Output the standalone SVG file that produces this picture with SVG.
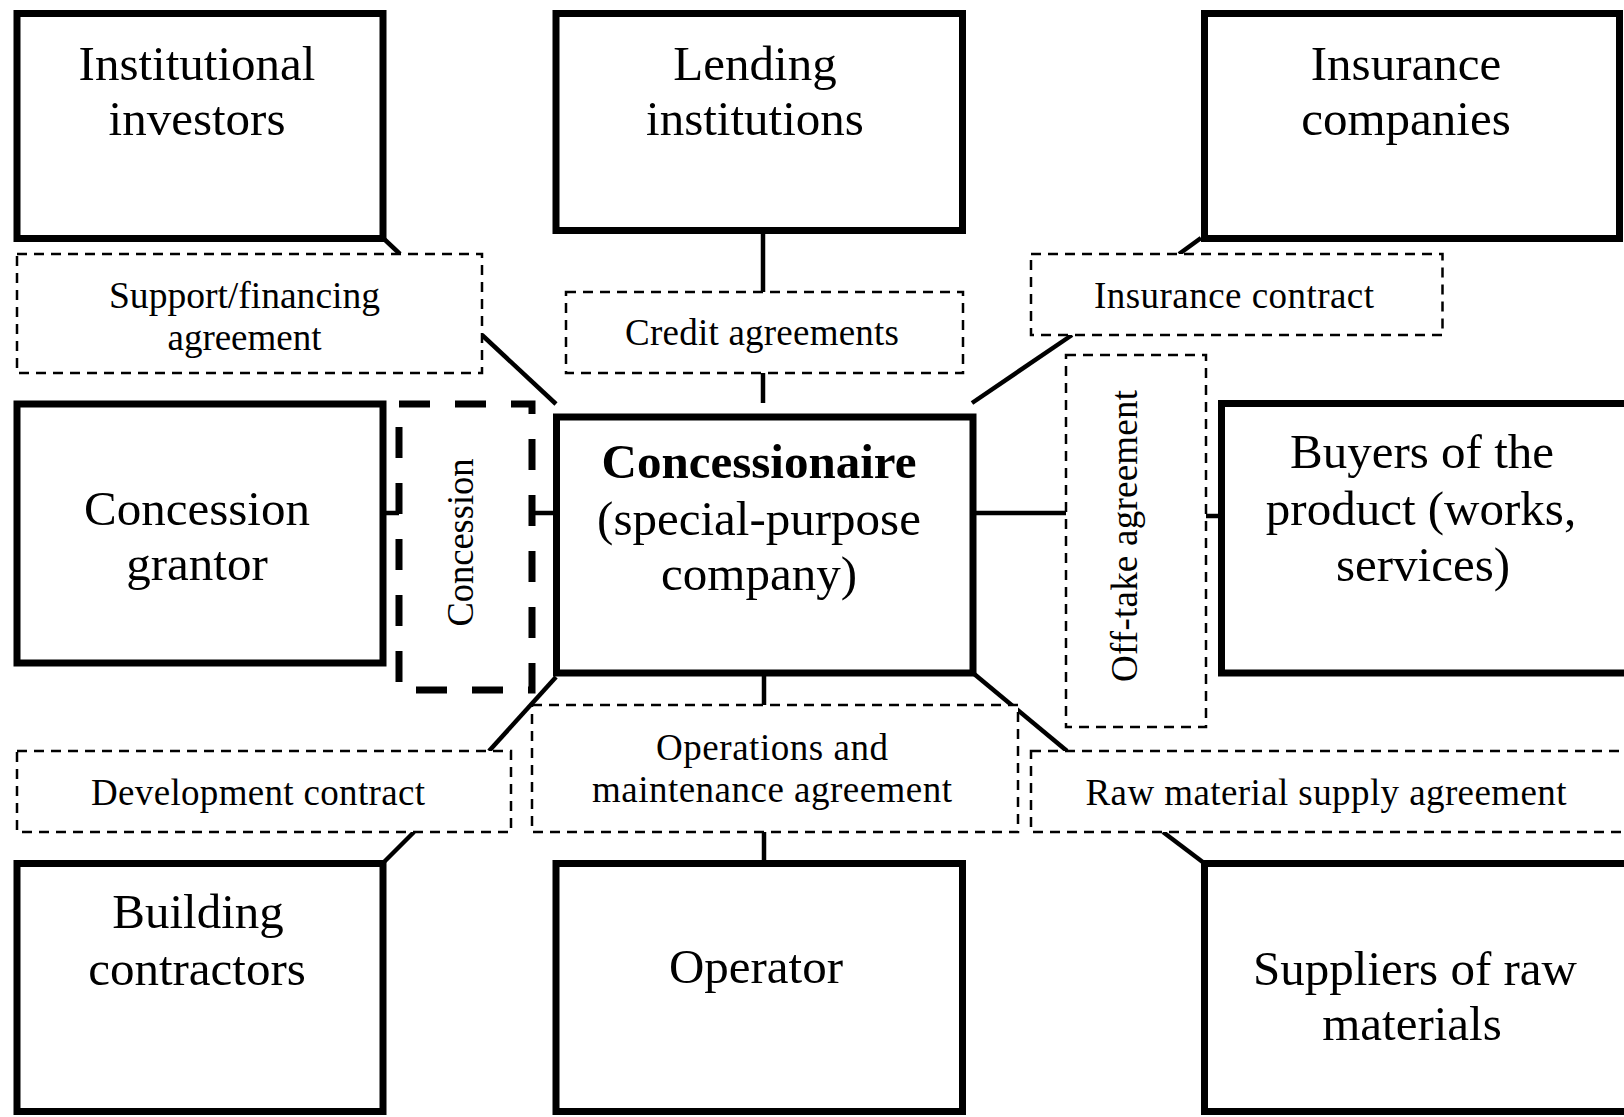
<svg xmlns="http://www.w3.org/2000/svg" width="1624" height="1117" viewBox="0 0 1624 1117">
  <style>
    .node { fill: #fff; stroke: #000; stroke-width: 7; }
    .label-box { fill: #fff; stroke: #000; stroke-width: 2.5; stroke-dasharray: 10 7; }
    .grant-box { fill: #fff; stroke: #000; stroke-width: 7; stroke-dasharray: 31 25; }
    .link { stroke: #000; stroke-width: 4.5; fill: none; }
    .big { font-family: "Liberation Serif", "Times New Roman", serif; font-size: 49px; fill: #000; text-anchor: middle; }
    .bold { font-weight: bold; }
    .small { font-family: "Liberation Serif", "Times New Roman", serif; font-size: 37px; fill: #000; text-anchor: middle; }
  </style>
  <rect width="1624" height="1117" fill="#fff"/>

  <!-- connectors -->
  <g id="connectors">
    <line class="link" x1="383" y1="238" x2="400" y2="254"/>
    <line class="link" x1="482" y1="335" x2="556" y2="404"/>
    <line class="link" x1="763" y1="234" x2="763" y2="292"/>
    <line class="link" x1="763" y1="373" x2="763" y2="403"/>
    <line class="link" x1="1201" y1="238" x2="1179" y2="254"/>
    <line class="link" x1="1072" y1="335" x2="972" y2="403"/>
    <line class="link" x1="386" y1="513" x2="399" y2="513"/>
    <line class="link" x1="532" y1="513" x2="556" y2="513"/>
    <line class="link" x1="973" y1="513" x2="1066" y2="513"/>
    <line class="link" x1="1206" y1="516" x2="1221" y2="516"/>
    <line class="link" x1="556" y1="677" x2="489" y2="751"/>
    <line class="link" x1="414" y1="832" x2="384" y2="862"/>
    <line class="link" x1="764" y1="673" x2="764" y2="705"/>
    <line class="link" x1="764" y1="832" x2="764" y2="862"/>
    <line class="link" x1="973" y1="673" x2="1067" y2="751"/>
    <line class="link" x1="1163" y1="832" x2="1204" y2="863"/>
  </g>

  <!-- agreement labels -->
  <g id="support-agreement">
    <rect class="label-box" x="17" y="254" width="465" height="119"/>
    <text class="small" x="244.5" y="308" textLength="271" lengthAdjust="spacingAndGlyphs">Support/financing</text>
    <text class="small" x="244.5" y="350">agreement</text>
  </g>
  <g id="credit-agreements">
    <rect class="label-box" x="566" y="292" width="397" height="81"/>
    <text class="small" x="762" y="345" textLength="274" lengthAdjust="spacing">Credit agreements</text>
  </g>
  <g id="insurance-contract">
    <rect class="label-box" x="1031" y="254" width="411.5" height="81"/>
    <text class="small" x="1234" y="308" textLength="280" lengthAdjust="spacing">Insurance contract</text>
  </g>
  <g id="concession">
    <rect class="grant-box" x="399" y="404" width="133" height="286"/>
    <text class="small" transform="translate(473,542.5) rotate(-90)" x="0" y="0" textLength="168" lengthAdjust="spacingAndGlyphs">Concession</text>
  </g>
  <g id="offtake-agreement">
    <rect class="label-box" x="1066" y="355" width="140" height="372"/>
    <text class="small" transform="translate(1137,536) rotate(-90)" x="0" y="0" textLength="292" lengthAdjust="spacing">Off-take agreement</text>
  </g>
  <g id="development-contract">
    <rect class="label-box" x="17" y="751" width="494" height="81"/>
    <text class="small" x="258" y="805" textLength="334" lengthAdjust="spacing">Development contract</text>
  </g>
  <g id="om-agreement">
    <rect class="label-box" x="532" y="705" width="486" height="127"/>
    <text class="small" x="772" y="760" textLength="232" lengthAdjust="spacing">Operations and</text>
    <text class="small" x="772" y="802" textLength="360" lengthAdjust="spacing">maintenance agreement</text>
  </g>
  <g id="raw-material-agreement">
    <rect class="label-box" x="1031" y="751" width="620" height="81"/>
    <text class="small" x="1326" y="805" textLength="481" lengthAdjust="spacing">Raw material supply agreement</text>
  </g>

  <!-- parties -->
  <g id="institutional-investors">
    <rect class="node" x="17" y="13.5" width="366" height="225"/>
    <text class="big" x="197" y="80">Institutional</text>
    <text class="big" x="197" y="135">investors</text>
  </g>
  <g id="lending-institutions">
    <rect class="node" x="556" y="13.5" width="406.5" height="217"/>
    <text class="big" x="755" y="80">Lending</text>
    <text class="big" x="755" y="135">institutions</text>
  </g>
  <g id="insurance-companies">
    <rect class="node" x="1204.5" y="13.5" width="415" height="225"/>
    <text class="big" x="1406" y="80">Insurance</text>
    <text class="big" x="1406" y="135">companies</text>
  </g>
  <g id="concession-grantor">
    <rect class="node" x="17" y="404" width="366" height="259"/>
    <text class="big" x="197" y="525">Concession</text>
    <text class="big" x="197" y="580">grantor</text>
  </g>
  <g id="concessionaire">
    <rect class="node" x="556.5" y="417" width="416.5" height="256"/>
    <text class="big bold" x="759" y="478">Concessionaire</text>
    <text class="big" x="759" y="535">(special-purpose</text>
    <text class="big" x="759" y="590">company)</text>
  </g>
  <g id="buyers">
    <rect class="node" x="1221.5" y="403.5" width="430" height="269.5"/>
    <text class="big" x="1422" y="468">Buyers of the</text>
    <text class="big" x="1421" y="525">product (works,</text>
    <text class="big" x="1423" y="581">services)</text>
  </g>
  <g id="building-contractors">
    <rect class="node" x="17" y="863.5" width="366" height="248"/>
    <text class="big" x="198" y="928">Building</text>
    <text class="big" x="197" y="985">contractors</text>
  </g>
  <g id="operator">
    <rect class="node" x="556" y="863.5" width="406.5" height="248"/>
    <text class="big" x="756" y="983">Operator</text>
  </g>
  <g id="suppliers">
    <rect class="node" x="1204.5" y="863.5" width="440" height="248"/>
    <text class="big" x="1415" y="985">Suppliers of raw</text>
    <text class="big" x="1412" y="1040">materials</text>
  </g>
</svg>
